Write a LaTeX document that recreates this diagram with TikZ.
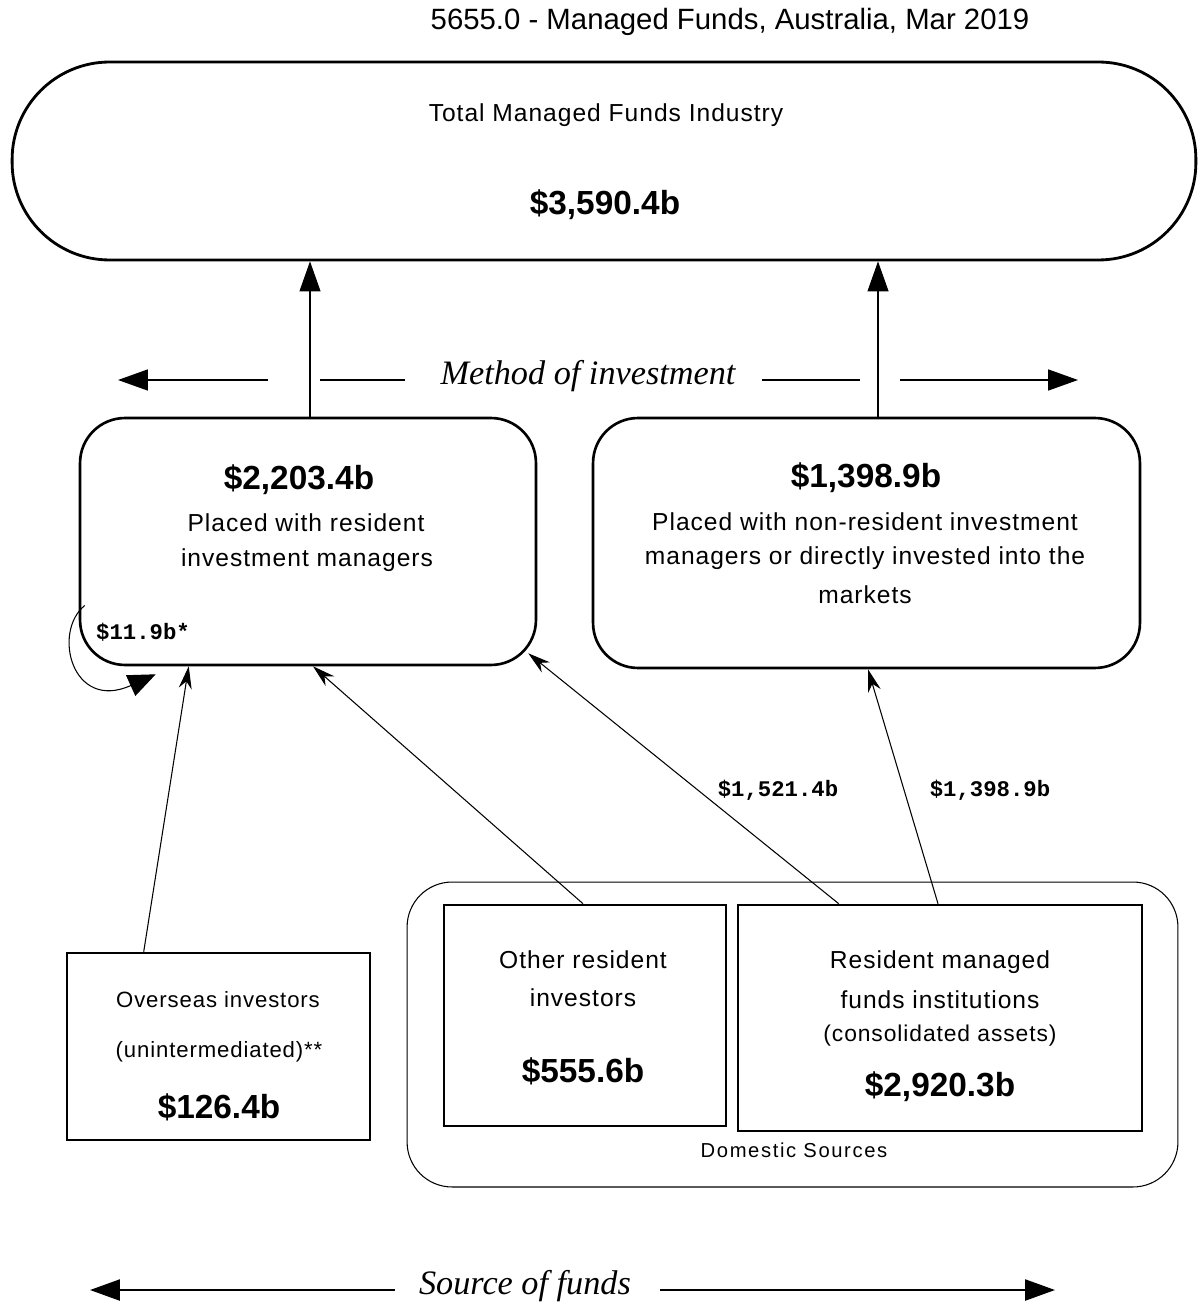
\documentclass[tikz,border=0pt]{standalone}
\usepackage{fontspec}
\setmainfont{Liberation Sans}
\newfontfamily\itfont{Liberation Serif}
\newfontfamily\monof{Liberation Mono}
\newfontfamily\spaced{Liberation Sans}[LetterSpace=4]
\newfontfamily\wide{Liberation Sans}[LetterSpace=8]
\usetikzlibrary{arrows.meta,calc}
\begin{document}
\begin{tikzpicture}[x=0.02cm,y=-0.02cm,
  box/.style={draw,line width=1.5pt,inner sep=0},
  txt/.style={inner sep=0,font=\spaced\fontsize{14}{16}\selectfont},
  smalltxt/.style={inner sep=0,font=\spaced\fontsize{12.6}{15}\selectfont},
  big/.style={inner sep=0,font=\fontsize{19}{22}\selectfont\bfseries},
  thinline/.style={line width=0.6pt},
  bigtip/.style={-{Triangle[length=0.6cm,width=0.42cm]},line width=1pt},
  smalltip/.style={-{Stealth[length=0.45cm,width=0.26cm]},line width=0.6pt},
  lab/.style={inner sep=0,font=\monof\fontsize{12.7}{14}\selectfont\bfseries},
  ital/.style={inner sep=0,font=\itfont\itshape\fontsize{19.5}{22}\selectfont}]
\useasboundingbox (0,0) rectangle (1200,1310);
% title
\node[inner sep=0,font=\fontsize{16.7}{19}\selectfont] (title) at (730,22) {5655.0 - Managed Funds, Australia, Mar 2019};
% total
\node[box,line width=1.6pt,rounded corners=1.95cm,minimum width=23.68cm,minimum height=3.96cm] (stad) at (604,161) {};
\node[txt] (tmf) at (606,115) {Total Managed Funds Industry};
\node[big] (tot) at (605,205) {\$3,590.4b};
% method boxes
\node[box,rounded corners=0.9cm,minimum width=9.12cm,minimum height=4.94cm] (lbox) at (308,541.5) {};
\node[big] (lval) at (299,480) {\$2,203.4b};
\node[txt] (l1) at (306,523) {Placed with resident};
\node[txt] (l2) at (307,560) {investment managers};
\node[box,rounded corners=0.9cm,minimum width=10.94cm,minimum height=5cm] (rbox) at (866.5,543) {};
\node[big] (rval) at (866,478) {\$1,398.9b};
\node[txt] (r1) at (865,522) {Placed with non-resident investment};
\node[txt] (r2) at (865,558) {managers or directly invested into the};
\node[txt] (r3) at (865,595) {markets};
\node[lab] (self) at (143,632) {\$11.9b*};
% method of investment row
\node[ital] (moi) at (588,376) {Method of investment};
\coordinate (ma) at (268,380); \coordinate (mb) at (118,380);
\coordinate (mc) at (320,380); \coordinate (md) at (405,380);
\coordinate (me) at (762,380); \coordinate (mf) at (860,380);
\coordinate (mg) at (900,380); \coordinate (mh) at (1078,380);
\draw[bigtip] (ma) -- (mb);
\draw[line width=1pt] (mc) -- (md);
\draw[line width=1pt] (me) -- (mf);
\draw[bigtip] (mg) -- (mh);
% up arrows
\coordinate (la) at ([shift={(2,0)}]lbox.north);
\coordinate (ra) at ([shift={(11.5,0)}]rbox.north);
\draw[bigtip,line width=0.6pt] (la) -- (la |- stad.south);
\draw[bigtip,line width=0.6pt] (ra) -- (ra |- stad.south);
% sources
\node[draw,thinline,rounded corners=0.9cm,minimum width=15.42cm,minimum height=6.1cm] (dom) at (792.5,1034.5) {};
\node[inner sep=0,font=\wide\fontsize{11.5}{13}\selectfont] (domt) at (794,1150) {Domestic Sources};
\node[box,minimum width=6.06cm,minimum height=3.74cm] (ovs) at (218.5,1046.5) {};
\node[smalltxt] (o1) at (218,1000) {Overseas investors};
\node[smalltxt] (o2) at (219,1052) {(unintermediated)**};
\node[big] (oval) at (219,1107) {\$126.4b};
\node[box,minimum width=5.64cm,minimum height=4.42cm] (oth) at (585,1015.5) {};
\node[txt] (t1) at (583,960) {Other resident};
\node[txt] (t2) at (583,998) {investors};
\node[big] (tval) at (583,1071) {\$555.6b};
\node[box,minimum width=8.08cm,minimum height=4.52cm] (res) at (940,1018) {};
\node[txt] (s1) at (940,962) {Resident managed};
\node[txt] (s2) at (940,1000) {funds institutions};
\node[inner sep=0,font=\spaced\fontsize{13}{15}\selectfont] (s3) at (940,1036) {(consolidated assets)};
\node[big] (sval) at (940,1087) {\$2,920.3b};
% flows
\draw[smalltip] ([shift={(78,0)}]ovs.north west) -- ([shift={(110,0)}]lbox.south west);
\draw[smalltip] ([shift={(-2,0)}]oth.north) -- ([shift={(5,0)}]lbox.south);
\draw[smalltip] ([shift={(102,0)}]res.north west) -- ([shift={(-9,-13)}]lbox.south east);
\draw[smalltip] ([shift={(-2,0)}]res.north) -- ([shift={(1.5,0)}]rbox.south);
\node[lab] (f1) at (778,790) {\$1,521.4b};
\node[lab] (f2) at (990,790) {\$1,398.9b};
% self loop
\coordinate (ls) at ([shift={(6,64)}]lbox.west);
\coordinate (le) at ([shift={(77,8)}]lbox.south west);
\draw[thinline,-{Triangle[length=0.55cm,width=0.45cm]}] (ls) .. controls (52,632) and (72,712) .. (le);
% source of funds row
\node[ital] (sof) at (525,1286) {Source of funds};
\coordinate (sa) at (395,1290); \coordinate (sb) at (90,1290);
\coordinate (sc) at (660,1290); \coordinate (sd) at (1055,1290);
\draw[bigtip,line width=1.4pt] (sa) -- (sb);
\draw[bigtip,line width=1.4pt] (sc) -- (sd);
\end{tikzpicture}
\end{document}
